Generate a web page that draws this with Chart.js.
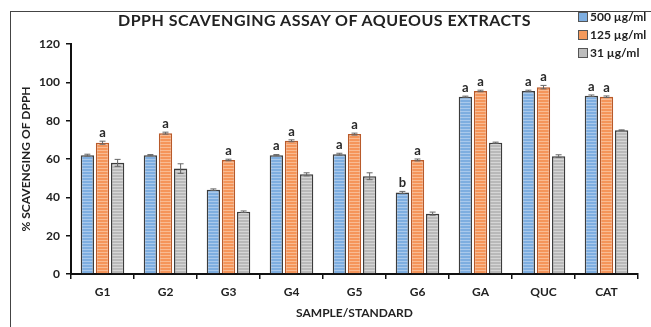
<!DOCTYPE html>
<html>
<head>
<meta charset="utf-8">
<script src="https://cdn.jsdelivr.net/npm/chart.js@4"></script>
<style>
  body { margin: 0; background: #fff; }
  #wrap { position: relative; width: 651px; height: 327px; font-family: Lato, sans-serif; }
  #frame { position: absolute; left: 10px; top: 11px; width: 660px; height: 340px; border-left: 1px solid #444; border-top: 1px solid #444; }
  #title { position: absolute; left: 118px; top: 10px; font-weight: bold; font-size: 16px; letter-spacing: 0.5px; color: #222; white-space: nowrap; }
  .leg { position: absolute; left: 578px; font-weight: bold; font-size: 12px; color: #222; white-space: nowrap; }
  .leg span { display: inline-block; width: 8px; height: 8px; border: 1px solid #555; margin-right: 2px; vertical-align: -1px; }
  canvas { position: absolute; left: 0; top: 0; }
</style>
</head>
<body>
<div id="wrap">
  <div id="frame"></div>
  <canvas id="chart" width="651" height="327"></canvas>
  <div id="title">DPPH SCAVENGING ASSAY OF AQUEOUS EXTRACTS</div>
  <div class="leg" style="top:9px"><span style="background:#7eaee0"></span>500 µg/ml</div>
  <div class="leg" style="top:27px"><span style="background:#f59a5c"></span>125 µg/ml</div>
  <div class="leg" style="top:45px"><span style="background:#bdbdbd"></span>31 µg/ml</div>
</div>
<script>
let samples = ['G1', 'G2', 'G3', 'G4', 'G5', 'G6', 'GA', 'QUC', 'CAT'];
let conc500 = [62, 62, 44, 62, 62.5, 42.5, 92.5, 95.5, 93];
let conc125 = [68.5, 73.5, 59.5, 69.5, 73, 59.5, 95.5, 97.5, 92.5];
let conc31 = [58, 55, 32.5, 52, 51, 31.5, 68.5, 61.5, 75];
let err500 = [0.5, 0.3, 0.4, 0.3, 0.5, 0.6, 0.3, 0.4, 0.4];
let err125 = [0.8, 0.5, 0.4, 0.5, 0.5, 0.5, 0.4, 0.9, 0.4];
let err31 = [1.8, 2.5, 0.4, 0.8, 1.8, 0.8, 0.3, 0.7, 0.2];
let sig500 = ['', '', '', 'a', 'a', 'b', 'a', 'a', 'a'];
let sig125 = ['a', 'a', 'a', 'a', 'a', 'a', 'a', 'a', 'a'];
let sig31 = ['', '', '', '', '', '', '', '', ''];
let yTicks = [0, 20, 40, 60, 80, 100, 120];

function stripes(base, line) {
    let c = document.createElement('canvas');
    c.width = 4; c.height = 3;
    let g = c.getContext('2d');
    g.fillStyle = base;
    g.fillRect(0, 0, 4, 3);
    g.fillStyle = line;
    g.fillRect(0, 0, 4, 1);
    return document.getElementById('chart').getContext('2d').createPattern(c, 'repeat');
}

let errs = [err500, err125, err31];
let sigs = [sig500, sig125, sig31];

let extras = {
    id: 'extras',
    afterDatasetsDraw(chart) {
        let ctx = chart.ctx;
        let y = chart.scales.y;
        ctx.save();
        chart.data.datasets.forEach(function(ds, d) {
            let meta = chart.getDatasetMeta(d);
            meta.data.forEach(function(bar, i) {
                let v = ds.data[i];
                let e = errs[d][i];
                let top = y.getPixelForValue(v + e);
                let bot = y.getPixelForValue(v - e);
                ctx.strokeStyle = '#666';
                ctx.lineWidth = 1;
                ctx.beginPath();
                ctx.moveTo(bar.x, top); ctx.lineTo(bar.x, bot);
                ctx.moveTo(bar.x - 3, top); ctx.lineTo(bar.x + 3, top);
                ctx.moveTo(bar.x - 3, bot); ctx.lineTo(bar.x + 3, bot);
                ctx.stroke();
                if (sigs[d][i]) {
                    ctx.fillStyle = '#2a2a2a';
                    ctx.font = 'bold 13px Lato';
                    ctx.textAlign = 'center';
                    ctx.textBaseline = 'bottom';
                    ctx.fillText(sigs[d][i], bar.x, top - 2);
                }
            });
        });
        ctx.restore();
    }
};

let tickFont = { family: 'Lato', size: 12, weight: 'bold' };

new Chart(document.getElementById('chart'), {
    type: 'bar',
    data: {
        labels: samples,
        datasets: [
            { label: '500 µg/ml', data: conc500, backgroundColor: stripes('#7eaee0', '#a9c9ec'), borderColor: '#3c3c3c', borderWidth: 1.5 },
            { label: '125 µg/ml', data: conc125, backgroundColor: stripes('#f5955a', '#f9bb92'), borderColor: '#b85a2a', borderWidth: 1.5 },
            { label: '31 µg/ml', data: conc31, backgroundColor: stripes('#b9b9b9', '#d6d6d6'), borderColor: '#3c3c3c', borderWidth: 1.5 }
        ]
    },
    options: {
        responsive: false,
        animation: false,
        layout: { padding: { left: 10, top: 44, right: 13, bottom: 0 } },
        categoryPercentage: 0.72,
        barPercentage: 0.88,
        plugins: { legend: { display: false }, title: { display: false }, tooltip: { enabled: false } },
        scales: {
            x: {
                grid: { drawOnChartArea: false, tickLength: 5, color: '#111', lineWidth: 1.5 },
                border: { color: '#111', width: 2 },
                ticks: { font: tickFont, color: '#222', padding: 6 },
                title: { display: true, text: 'SAMPLE/STANDARD', font: tickFont, color: '#222', padding: { top: 4, bottom: 7 } },
                afterFit: function(s) { s.height = 53; }
            },
            y: {
                min: 0, max: 120,
                afterBuildTicks: function(s) { s.ticks = yTicks.map(function(v) { return { value: v }; }); },
                grid: { drawOnChartArea: false, tickLength: 5, color: '#111', lineWidth: 1.5 },
                border: { color: '#111', width: 2 },
                ticks: { font: tickFont, color: '#222', padding: 6 },
                title: { display: true, text: '% SCAVENGING OF DPPH', font: { family: 'Lato', size: 12, weight: 'bold' }, color: '#222', padding: { top: 9, bottom: 0 } },
                afterFit: function(s) { s.width = 61; }
            }
        }
    },
    plugins: [extras]
});
</script>
</body>
</html>
